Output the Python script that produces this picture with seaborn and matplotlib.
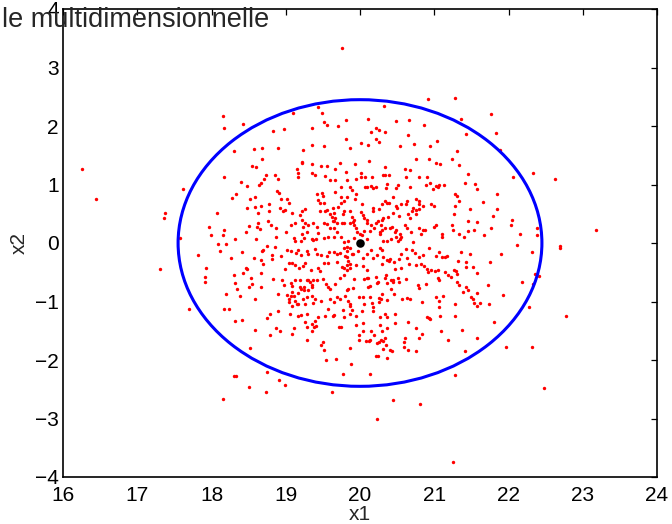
import matplotlib
matplotlib.use("Agg")
import matplotlib.pyplot as plt
import seaborn as sns
import pandas as pd
from matplotlib.patches import Ellipse

# ---------------- data ----------------
title_text = "le multidimensionnelle"
x_label = "x1"
y_label = "x2"
x_ticks = [16, 17, 18, 19, 20, 21, 22, 23, 24]
y_ticks = [-4, -3, -2, -1, 0, 1, 2, 3, 4]

mean_point = (20.0, 0.0)
ellipse_semi_axes = (2.45, 2.45)

pts_top_left = [
    (18.16, 2.17), (18.17, 1.97), (18.43, 2.03), (18.30, 1.58), (18.57, 1.60),
    (18.68, 1.63), (18.68, 1.44), (18.54, 1.31), (18.60, 1.30), (16.26, 1.27),
]

pts_top = [
    (19.76, 3.33), (20.92, 2.46), (21.28, 2.48), (21.36, 2.12), (20.32, 2.35),
    (19.43, 2.32), (19.10, 2.22), (19.49, 2.23), (19.52, 2.07), (19.56, 2.01),
    (19.71, 2.00), (19.81, 2.10), (20.11, 2.12), (20.48, 2.09), (20.66, 2.11),
    (20.86, 2.02), (18.83, 1.91), (18.98, 1.95), (19.36, 1.96), (20.21, 1.97),
    (20.25, 1.93), (20.15, 1.90), (20.33, 1.89), (19.81, 1.78), (20.22, 1.77),
    (20.25, 1.73), (20.02, 1.71), (20.11, 1.68), (20.65, 1.85), (20.73, 1.70),
    (21.04, 1.74), (20.94, 1.66), (20.54, 1.66), (19.36, 1.67), (19.51, 1.65),
    (19.86, 1.62), (18.90, 1.62), (19.23, 1.59), (19.22, 1.39), (19.22, 1.36),
    (19.35, 1.35), (19.48, 1.32), (19.56, 1.32), (19.73, 1.36), (19.93, 1.35),
    (20.12, 1.41), (20.33, 1.30), (20.75, 1.43), (20.93, 1.43), (21.03, 1.37),
    (21.08, 1.35), (21.24, 1.43), (21.31, 1.57), (21.33, 1.33), (19.15, 1.26),
    (19.66, 1.27), (20.61, 1.26),
]

pts_top_right = [
    (21.76, 2.20), (21.43, 1.87), (21.83, 1.88), (21.89, 1.59),
]

pts_left = [
    (16.45, 0.76), (17.61, 0.92), (17.38, 0.52), (17.36, 0.42), (17.58, 0.09),
    (17.30, -0.45), (17.82, -0.21), (17.96, 0.28), (17.99, 0.13), (18.07, 0.51),
    (18.17, 1.12), (18.09, -0.02), (18.11, -0.14), (17.93, -0.43), (17.91, -0.58),
    (17.91, -0.66), (17.70, -1.12), (18.17, -1.13), (18.24, -1.12), (18.20, -0.88),
    (18.38, -0.91), (18.32, -1.34), (18.41, -1.31), (18.58, -1.48), (18.17, 0.23),
    (18.15, 0.13), (18.20, -0.01), (18.26, -0.25), (18.32, 0.06), (18.41, -0.16),
    (18.28, 0.77), (18.33, 0.83), (18.40, 1.04), (18.48, 0.97), (18.64, 1.00),
    (18.66, 1.03), (18.52, 0.76), (18.59, 0.79), (18.48, 0.60), (18.58, 0.61),
    (18.66, 0.64), (18.62, 0.52), (18.63, 0.35), (18.51, 0.29), (18.61, 0.27),
    (18.65, 0.24), (18.47, 0.19), (18.60, 0.06), (18.68, -0.14), (18.57, -0.26),
    (18.67, -0.29), (18.46, -0.42), (18.48, -0.44), (18.42, -0.51), (18.30, -0.55),
    (18.53, -0.60), (18.32, -0.69), (18.54, -0.70), (18.34, -0.78), (18.50, -0.76),
    (18.66, -0.51), (18.67, -0.75), (18.59, -0.95),
]

pts_right = [
    (21.45, 1.18), (22.06, 1.12), (22.33, 1.20), (22.63, 1.09), (21.41, 1.02),
    (21.55, 1.01), (21.57, 0.92), (21.85, 0.84), (21.65, 0.70), (21.48, 0.58),
    (21.84, 0.58), (21.79, 0.46), (21.46, 0.38), (21.58, 0.36), (22.05, 0.40),
    (22.04, 0.31), (21.77, 0.26), (21.45, 0.21), (21.53, 0.22), (21.40, 0.11),
    (21.67, 0.13), (22.15, 0.16), (22.38, 0.25), (22.39, 0.14), (23.18, 0.23),
    (22.11, -0.03), (22.70, -0.05), (22.69, -0.08), (22.31, -0.16), (21.90, -0.19),
    (21.48, -0.18), (21.43, -0.33), (21.43, -0.41), (21.52, -0.41), (21.75, -0.32),
    (21.57, -0.51), (22.36, -0.53), (22.41, -0.56), (22.18, -0.66), (22.33, -0.70),
    (21.72, -0.72), (21.43, -0.75), (21.45, -0.81), (21.39, -0.83), (21.58, -0.85),
    (21.50, -0.92), (21.52, -0.96), (21.93, -0.89), (21.54, -1.03), (21.61, -1.03),
    (21.58, -1.08), (21.74, -1.05), (22.27, -1.09), (22.77, -1.24), (21.80, -1.35),
]

pts_bottom_left = [
    (18.52, -1.79), (18.30, -2.28), (18.33, -2.28), (18.50, -2.47), (18.15, -2.66),
]

pts_bottom = [
    (18.73, -2.54), (18.75, -2.20), (18.91, -2.34), (18.99, -2.42), (18.79, -1.58),
    (18.92, -1.50), (19.09, -1.56), (19.29, -1.66), (19.35, -1.50), (19.48, -1.74),
    (19.50, -1.70), (19.52, -1.83), (19.54, -2.00), (19.68, -1.98), (19.62, -2.55),
    (19.77, -2.24), (19.88, -2.07), (19.86, -1.80), (19.98, -1.58), (19.98, -1.65),
    (20.04, -1.51), (20.08, -1.68), (20.12, -1.68), (20.13, -1.65), (20.15, -1.50),
    (20.19, -1.58), (20.23, -1.71), (20.26, -1.70), (20.28, -1.65), (20.29, -1.51),
    (20.31, -1.67), (20.34, -1.62), (20.35, -1.75), (20.31, -1.81), (20.40, -1.83),
    (20.43, -1.85), (20.21, -1.94), (20.24, -1.93), (20.37, -1.97), (20.13, -2.24),
    (20.23, -3.00), (20.45, -2.69), (20.61, -1.62), (20.59, -1.69), (20.59, -1.77),
    (20.65, -1.83), (20.76, -1.84), (20.80, -1.62), (20.83, -1.56), (21.09, -1.50),
    (21.19, -1.66), (20.81, -2.76), (21.28, -2.25), (21.25, -3.74),
]

pts_bottom_right = [
    (21.41, -1.85), (21.58, -1.62), (21.97, -1.77), (22.32, -1.78), (22.48, -2.48),
]

pts_core_upper = [
    (18.74, 1.17), (18.86, 1.17), (18.90, 1.09), (19.16, 1.20), (19.17, 1.12),
    (19.35, 1.19), (19.40, 1.17), (19.53, 1.14), (19.59, 1.07), (19.67, 1.07),
    (19.81, 1.22), (19.94, 1.09), (20.02, 1.20), (20.02, 1.13), (20.07, 1.13),
    (20.16, 1.13), (20.31, 1.16), (20.33, 1.16), (20.39, 1.16), (20.51, 1.00),
    (20.62, 1.12), (20.67, 1.24), (20.80, 1.13), (20.90, 1.12), (20.98, 0.93),
    (21.05, 0.96), (21.07, 0.99), (21.13, 1.00), (21.28, 0.83), (21.31, 0.81),
    (18.71, 1.09), (19.82, 1.07), (19.75, 0.95), (19.86, 0.95), (19.89, 0.91),
    (20.07, 0.95), (20.09, 0.95), (20.15, 0.97), (20.18, 0.94), (20.22, 0.95),
    (20.35, 0.94), (20.36, 1.01), (20.48, 0.94), (20.67, 0.95), (20.89, 1.00),
    (20.94, 1.02), (21.03, 0.98), (21.34, 0.72),
    (18.88, 0.89), (18.91, 0.85), (18.94, 0.75), (19.02, 0.75), (19.05, 0.68),
    (18.78, 0.66), (18.92, 0.59), (18.96, 0.54), (18.99, 0.56), (18.77, 0.55),
    (19.09, 0.52), (19.19, 0.48), (19.22, 0.54), (19.26, 0.58), (19.42, 0.83),
    (19.49, 0.86), (19.50, 0.80), (19.44, 0.74), (19.46, 0.68), (19.52, 0.69),
    (19.67, 0.88), (19.74, 0.79), (19.79, 0.72), (19.75, 0.69), (19.83, 0.79),
    (19.93, 0.75), (19.94, 0.84), (19.71, 0.62), (19.64, 0.60), (19.65, 0.52),
    (19.56, 0.56), (19.46, 0.54), (19.53, 0.55), (19.59, 0.50), (19.62, 0.45),
    (19.67, 0.42), (19.69, 0.35), (19.78, 0.54), (19.77, 0.49), (19.87, 0.55),
    (19.89, 0.45), (19.92, 0.40), (19.90, 0.36), (20.03, 0.66), (20.04, 0.48),
    (20.05, 0.43), (20.01, 0.53), (20.09, 0.39), (20.17, 0.59), (20.17, 0.54),
    (20.26, 0.58), (20.30, 0.67), (20.33, 0.72), (20.37, 0.69), (20.39, 0.68),
    (20.44, 0.79), (20.48, 0.63), (20.50, 0.59), (20.55, 0.66), (20.62, 0.67),
    (20.63, 0.72), (20.75, 0.75), (20.79, 0.72), (20.80, 0.66), (20.85, 0.64),
    (20.72, 0.59), (20.70, 0.54), (20.76, 0.56), (20.80, 0.58), (20.96, 0.67),
    (21.00, 0.63), (21.28, 0.63), (21.26, 0.49), (20.65, 0.50), (20.68, 0.42),
    (20.76, 0.50), (20.52, 0.46), (20.45, 0.51), (20.38, 0.44), (20.31, 0.43),
    (20.29, 0.40), (20.28, 0.31), (20.24, 0.37), (20.21, 0.35), (20.15, 0.30),
    (20.19, 0.25), (20.13, 0.21), (20.06, 0.21), (20.03, 0.14), (20.00, 0.15),
    (20.10, 0.35),
]

pts_core_middle = [
    (18.76, 0.38), (18.80, 0.30), (18.87, 0.25), (19.00, 0.19), (19.07, 0.31),
    (19.13, 0.35), (19.22, 0.40), (19.26, 0.35), (19.23, 0.28), (19.30, 0.31),
    (19.37, 0.34), (19.42, 0.27), (19.43, 0.17), (19.51, 0.34), (19.56, 0.33),
    (19.59, 0.26), (19.63, 0.37), (19.65, 0.38), (19.65, 0.26), (19.69, 0.18),
    (19.76, 0.34), (19.79, 0.35), (19.86, 0.35), (19.92, 0.31), (19.95, 0.26),
    (18.87, 0.10), (18.85, -0.06), (18.75, -0.05), (19.11, 0.09), (19.13, 0.04),
    (19.21, 0.04), (19.22, 0.16), (19.28, 0.18), (19.25, 0.09), (19.35, 0.07),
    (19.37, 0.05), (19.41, 0.06), (19.51, 0.08), (19.57, 0.10), (19.65, 0.11),
    (19.75, 0.10), (19.79, 0.02), (19.82, -0.06), (19.84, 0.03), (19.92, 0.08),
    (19.96, 0.19), (20.02, -0.02), (20.09, 0.06), (20.27, 0.19), (20.30, 0.22),
    (20.34, 0.26), (20.41, 0.25), (20.43, 0.28), (20.49, 0.22), (20.47, 0.18),
    (20.54, 0.15), (20.54, 0.07), (20.51, 0.03), (20.55, 0.11), (20.49, 0.10),
    (20.42, 0.07), (20.37, 0.04), (20.27, 0.15), (20.31, 0.03), (20.61, 0.31),
    (20.63, 0.25), (20.69, 0.18), (20.85, 0.22), (20.82, 0.15), (20.79, 0.25),
    (20.88, 0.23), (20.99, 0.27), (21.03, 0.31), (21.11, 0.15), (21.11, 0.10),
    (21.24, 0.31), (21.25, 0.22), (21.33, 0.15), (20.70, -0.12), (20.62, -0.11),
    (20.71, 0.02), (20.55, -0.18),
    (18.69, -0.12), (18.81, -0.21), (18.82, -0.27), (18.94, -0.22), (19.02, -0.12),
    (19.07, -0.14), (19.17, -0.12), (19.20, -0.21), (19.14, -0.17), (19.28, -0.14),
    (19.30, -0.18), (19.39, -0.10), (19.42, -0.18), (19.48, -0.21), (19.55, -0.23),
    (19.58, -0.15), (19.65, -0.16), (19.69, -0.18), (19.73, -0.17), (19.79, -0.09),
    (19.82, -0.14), (19.87, -0.08), (19.80, -0.22), (19.83, -0.24), (19.84, -0.30),
    (19.89, -0.18), (19.91, -0.18), (19.97, -0.13), (19.95, -0.38), (20.04, -0.26),
    (20.09, -0.19), (20.15, -0.12), (20.17, -0.26), (20.23, -0.20), (20.27, -0.08),
    (20.29, -0.12), (20.31, -0.24), (20.36, -0.29), (20.39, -0.30), (20.41, -0.28),
    (20.46, -0.33), (20.52, -0.28), (20.63, -0.26), (20.74, -0.17), (20.80, -0.24),
    (20.85, -0.20), (20.93, -0.09), (21.02, -0.22), (21.06, -0.15), (21.11, -0.24),
    (21.17, -0.22), (21.32, -0.30), (21.36, -0.15), (18.69, -0.36), (18.99, -0.44),
    (19.04, -0.34), (19.08, -0.34), (19.13, -0.38), (19.18, -0.43), (19.23, -0.40),
    (19.26, -0.34), (19.34, -0.46), (19.43, -0.43), (19.46, -0.48), (19.52, -0.35),
    (19.57, -0.35), (19.69, -0.32), (19.78, -0.42), (19.82, -0.38), (19.86, -0.36),
    (19.87, -0.43), (19.83, -0.46), (19.76, -0.41), (20.04, -0.39), (20.09, -0.46),
    (20.30, -0.36), (20.47, -0.44), (20.55, -0.43), (20.66, -0.36), (20.75, -0.38),
    (20.82, -0.36), (20.86, -0.40), (20.90, -0.44), (20.96, -0.47), (21.01, -0.48),
    (21.05, -0.46), (21.14, -0.50), (21.26, -0.46), (21.29, -0.48), (21.14, -0.24),
    (20.91, -0.50),
]

pts_core_lower = [
    (18.83, -0.62), (18.95, -0.63), (18.98, -0.72), (19.07, -0.69), (19.09, -0.73),
    (19.13, -0.63), (19.19, -0.63), (19.19, -0.76), (19.21, -0.79), (19.25, -0.76),
    (19.28, -0.63), (19.30, -0.63), (19.33, -0.67), (19.36, -0.71), (19.37, -0.64),
    (19.42, -0.63), (19.50, -0.62), (19.54, -0.70), (19.57, -0.75), (19.60, -0.79),
    (19.66, -0.70), (19.73, -0.59), (19.79, -0.55), (19.82, -0.81), (19.84, -0.78),
    (19.90, -0.77), (19.92, -0.62), (20.05, -0.62), (20.09, -0.59), (20.11, -0.59),
    (20.11, -0.76), (20.13, -0.73), (20.21, -0.58), (20.23, -0.68), (20.24, -0.67),
    (20.35, -0.55), (20.33, -0.60), (20.42, -0.79), (20.42, -0.63), (20.44, -0.66),
    (20.45, -0.63), (20.51, -0.60), (20.53, -0.67), (20.36, -0.69), (20.62, -0.61),
    (20.78, -0.72), (20.80, -0.77), (20.89, -0.70), (21.05, -0.60), (21.06, -0.63),
    (21.18, -0.55), (21.23, -0.58), (21.30, -0.53), (21.31, -0.66), (21.34, -0.72),
    (19.08, -0.83), (19.11, -0.90), (19.16, -0.86), (19.25, -0.80), (19.30, -0.80),
    (19.35, -0.76), (19.35, -0.91), (19.23, -0.95), (19.29, -0.92), (18.90, -0.87),
    (19.02, -0.89), (19.05, -0.95), (19.07, -0.90), (19.04, -1.00), (19.13, -0.99),
    (19.15, -1.05), (19.09, -1.08), (19.17, -1.05), (19.26, -1.05), (19.37, -1.03),
    (19.39, -0.95), (19.48, -0.99), (19.59, -0.95), (19.65, -1.01), (19.69, -0.92),
    (19.73, -0.95), (19.80, -0.90), (19.84, -0.99), (19.87, -1.04), (19.98, -0.92),
    (20.04, -0.92), (20.05, -1.04), (20.14, -0.93), (20.16, -1.03), (20.25, -0.94),
    (20.25, -1.00), (20.28, -0.95), (20.30, -0.87), (20.36, -0.97), (20.46, -0.87),
    (20.57, -0.96), (20.63, -0.94), (20.67, -0.95), (20.84, -1.00), (21.02, -0.93),
    (21.07, -0.99), (21.12, -0.90), (21.07, -1.09), (21.28, -1.05),
    (18.79, -1.21), (18.75, -1.28), (18.89, -1.17), (19.06, -1.21), (19.16, -1.24),
    (19.20, -1.23), (19.28, -1.21), (19.26, -1.35), (19.36, -1.38), (19.39, -1.33),
    (19.43, -1.26), (19.53, -1.24), (19.63, -1.24), (19.65, -1.23), (19.77, -1.14),
    (19.79, -1.26), (19.87, -1.08), (19.89, -1.14), (19.95, -1.24), (20.03, -1.17),
    (20.17, -1.10), (20.18, -1.17), (20.27, -1.26), (20.33, -1.21), (20.37, -1.26),
    (20.47, -1.21), (20.47, -1.37), (20.65, -1.35), (20.93, -1.29), (20.94, -1.30),
    (21.08, -1.24), (21.28, -1.24), (21.38, -1.49), (18.87, -1.46), (19.11, -1.46),
    (19.29, -1.43), (19.38, -1.44), (19.41, -1.42), (19.72, -1.44), (19.75, -1.44),
    (19.94, -1.41), (20.04, -1.37), (20.27, -1.41), (20.37, -1.46), (20.76, -1.46),
    (20.90, -1.26), (19.57, -1.12), (19.87, -1.21),
]

# ---------------- build table ----------------
groups = [pts_top_left, pts_top, pts_top_right, pts_left, pts_right,
          pts_bottom_left, pts_bottom, pts_bottom_right,
          pts_core_upper, pts_core_middle, pts_core_lower]
rows = [p for g in groups for p in g]
df = pd.DataFrame(rows, columns=["x1", "x2"])
df_mean = pd.DataFrame([mean_point], columns=["x1", "x2"])

# ---------------- style ----------------
sns.set_style("white")
plt.rcParams["font.family"] = ["Liberation Sans", "DejaVu Sans"]

W, H = 672, 524
fig = plt.figure(figsize=(W / 100, H / 100), dpi=100)
ax = fig.add_axes([63 / W, 1 - 477 / H, 594 / W, 468 / H])

sns.scatterplot(data=df, x="x1", y="x2", color="#ff0000", s=6,
                linewidth=0, ax=ax, legend=False, zorder=2)

ell = Ellipse(mean_point, 2 * ellipse_semi_axes[0], 2 * ellipse_semi_axes[1],
              fill=False, edgecolor="#0000ff", linewidth=2.2, zorder=3)
ax.add_patch(ell)

sns.scatterplot(data=df_mean, x="x1", y="x2", color="black", s=38,
                linewidth=0, ax=ax, legend=False, zorder=4)

ax.set_xlim(x_ticks[0], x_ticks[-1])
ax.set_ylim(y_ticks[0], y_ticks[-1])
ax.set_xticks(x_ticks)
ax.set_yticks(y_ticks)
ax.tick_params(direction="in", top=True, right=True, length=4.5, width=0.9,
               labelsize=15, colors="black", pad=3)
ax.tick_params(axis="x", pad=6.5)
for sp in ax.spines.values():
    sp.set_visible(True)
    sp.set_color("black")
    sp.set_linewidth(1.2)

ax.set_xlabel(x_label, fontsize=15, labelpad=0)
ax.set_ylabel(y_label, fontsize=15, labelpad=4.5)

fig.text(2 / W, 1 - 27 / H, title_text, fontsize=19.5, ha="left", va="baseline")

fig.savefig("out.png", dpi=100)
